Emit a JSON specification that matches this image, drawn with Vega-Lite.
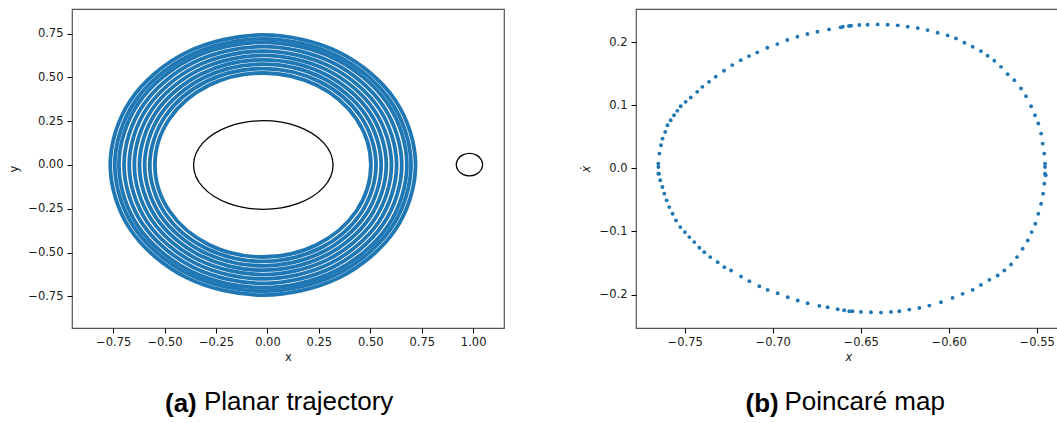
{
  "$schema": "https://vega.github.io/schema/vega-lite/v6.json",
  "padding": {"left": 8, "top": 8, "right": 0, "bottom": 0},
  "spacing": 74,
  "config": {
    "view": {"stroke": "#555", "strokeWidth": 1.2},
    "axis": {"domain": false, "grid": false, "tickColor": "#000", "tickSize": 5, "tickWidth": 1, "labelFont": "DejaVu Sans", "labelFontSize": 11.5, "labelColor": "#1a1a1a", "labelPadding": 3, "titleFont": "DejaVu Sans", "titleFontSize": 11.5, "titleFontWeight": "normal", "titleColor": "#1a1a1a"},
    "axisX": {"titlePadding": 4},
    "axisY": {"titlePadding": 8, "labelPadding": 4}
  },
  "datasets": {
    "traj": [
      {"ring":1,"i":0,"x":0.503,"y":0},{"ring":1,"i":1,"x":0.4327,"y":0.2625},{"ring":1,"i":2,"x":0.2405,"y":0.4547},{"ring":1,"i":3,"x":-0.022,"y":0.525},{"ring":1,"i":4,"x":-0.2845,"y":0.4547},{"ring":1,"i":5,"x":-0.4767,"y":0.2625},{"ring":1,"i":6,"x":-0.547,"y":0},{"ring":1,"i":7,"x":-0.4767,"y":-0.2625},{"ring":1,"i":8,"x":-0.2845,"y":-0.4547},{"ring":1,"i":9,"x":-0.022,"y":-0.525},{"ring":1,"i":10,"x":0.2405,"y":-0.4547},{"ring":1,"i":11,"x":0.4327,"y":-0.2625},
      {"ring":2,"i":0,"x":0.528,"y":0},{"ring":2,"i":1,"x":0.4543,"y":0.275},{"ring":2,"i":2,"x":0.253,"y":0.4763},{"ring":2,"i":3,"x":-0.022,"y":0.55},{"ring":2,"i":4,"x":-0.297,"y":0.4763},{"ring":2,"i":5,"x":-0.4983,"y":0.275},{"ring":2,"i":6,"x":-0.572,"y":0},{"ring":2,"i":7,"x":-0.4983,"y":-0.275},{"ring":2,"i":8,"x":-0.297,"y":-0.4763},{"ring":2,"i":9,"x":-0.022,"y":-0.55},{"ring":2,"i":10,"x":0.253,"y":-0.4763},{"ring":2,"i":11,"x":0.4543,"y":-0.275},
      {"ring":3,"i":0,"x":0.553,"y":0},{"ring":3,"i":1,"x":0.476,"y":0.2875},{"ring":3,"i":2,"x":0.2655,"y":0.498},{"ring":3,"i":3,"x":-0.022,"y":0.575},{"ring":3,"i":4,"x":-0.3095,"y":0.498},{"ring":3,"i":5,"x":-0.52,"y":0.2875},{"ring":3,"i":6,"x":-0.597,"y":0},{"ring":3,"i":7,"x":-0.52,"y":-0.2875},{"ring":3,"i":8,"x":-0.3095,"y":-0.498},{"ring":3,"i":9,"x":-0.022,"y":-0.575},{"ring":3,"i":10,"x":0.2655,"y":-0.498},{"ring":3,"i":11,"x":0.476,"y":-0.2875},
      {"ring":4,"i":0,"x":0.578,"y":0},{"ring":4,"i":1,"x":0.4976,"y":0.3},{"ring":4,"i":2,"x":0.278,"y":0.5196},{"ring":4,"i":3,"x":-0.022,"y":0.6},{"ring":4,"i":4,"x":-0.322,"y":0.5196},{"ring":4,"i":5,"x":-0.5416,"y":0.3},{"ring":4,"i":6,"x":-0.622,"y":0},{"ring":4,"i":7,"x":-0.5416,"y":-0.3},{"ring":4,"i":8,"x":-0.322,"y":-0.5196},{"ring":4,"i":9,"x":-0.022,"y":-0.6},{"ring":4,"i":10,"x":0.278,"y":-0.5196},{"ring":4,"i":11,"x":0.4976,"y":-0.3},
      {"ring":5,"i":0,"x":0.603,"y":0},{"ring":5,"i":1,"x":0.5193,"y":0.3125},{"ring":5,"i":2,"x":0.2905,"y":0.5413},{"ring":5,"i":3,"x":-0.022,"y":0.625},{"ring":5,"i":4,"x":-0.3345,"y":0.5413},{"ring":5,"i":5,"x":-0.5633,"y":0.3125},{"ring":5,"i":6,"x":-0.647,"y":0},{"ring":5,"i":7,"x":-0.5633,"y":-0.3125},{"ring":5,"i":8,"x":-0.3345,"y":-0.5413},{"ring":5,"i":9,"x":-0.022,"y":-0.625},{"ring":5,"i":10,"x":0.2905,"y":-0.5413},{"ring":5,"i":11,"x":0.5193,"y":-0.3125},
      {"ring":6,"i":0,"x":0.628,"y":0},{"ring":6,"i":1,"x":0.5409,"y":0.325},{"ring":6,"i":2,"x":0.303,"y":0.5629},{"ring":6,"i":3,"x":-0.022,"y":0.65},{"ring":6,"i":4,"x":-0.347,"y":0.5629},{"ring":6,"i":5,"x":-0.5849,"y":0.325},{"ring":6,"i":6,"x":-0.672,"y":0},{"ring":6,"i":7,"x":-0.5849,"y":-0.325},{"ring":6,"i":8,"x":-0.347,"y":-0.5629},{"ring":6,"i":9,"x":-0.022,"y":-0.65},{"ring":6,"i":10,"x":0.303,"y":-0.5629},{"ring":6,"i":11,"x":0.5409,"y":-0.325},
      {"ring":7,"i":0,"x":0.653,"y":0},{"ring":7,"i":1,"x":0.5626,"y":0.3375},{"ring":7,"i":2,"x":0.3155,"y":0.5846},{"ring":7,"i":3,"x":-0.022,"y":0.675},{"ring":7,"i":4,"x":-0.3595,"y":0.5846},{"ring":7,"i":5,"x":-0.6066,"y":0.3375},{"ring":7,"i":6,"x":-0.697,"y":0},{"ring":7,"i":7,"x":-0.6066,"y":-0.3375},{"ring":7,"i":8,"x":-0.3595,"y":-0.5846},{"ring":7,"i":9,"x":-0.022,"y":-0.675},{"ring":7,"i":10,"x":0.3155,"y":-0.5846},{"ring":7,"i":11,"x":0.5626,"y":-0.3375},
      {"ring":8,"i":0,"x":0.678,"y":0},{"ring":8,"i":1,"x":0.5842,"y":0.35},{"ring":8,"i":2,"x":0.328,"y":0.6062},{"ring":8,"i":3,"x":-0.022,"y":0.7},{"ring":8,"i":4,"x":-0.372,"y":0.6062},{"ring":8,"i":5,"x":-0.6282,"y":0.35},{"ring":8,"i":6,"x":-0.722,"y":0},{"ring":8,"i":7,"x":-0.6282,"y":-0.35},{"ring":8,"i":8,"x":-0.372,"y":-0.6062},{"ring":8,"i":9,"x":-0.022,"y":-0.7},{"ring":8,"i":10,"x":0.328,"y":-0.6062},{"ring":8,"i":11,"x":0.5842,"y":-0.35},
      {"ring":9,"i":0,"x":0.698,"y":0},{"ring":9,"i":1,"x":0.6015,"y":0.36},{"ring":9,"i":2,"x":0.338,"y":0.6235},{"ring":9,"i":3,"x":-0.022,"y":0.72},{"ring":9,"i":4,"x":-0.382,"y":0.6235},{"ring":9,"i":5,"x":-0.6455,"y":0.36},{"ring":9,"i":6,"x":-0.742,"y":0},{"ring":9,"i":7,"x":-0.6455,"y":-0.36},{"ring":9,"i":8,"x":-0.382,"y":-0.6235},{"ring":9,"i":9,"x":-0.022,"y":-0.72},{"ring":9,"i":10,"x":0.338,"y":-0.6235},{"ring":9,"i":11,"x":0.6015,"y":-0.36},
      {"ring":10,"i":0,"x":0.72,"y":0},{"ring":10,"i":1,"x":0.6206,"y":0.371},{"ring":10,"i":2,"x":0.349,"y":0.6426},{"ring":10,"i":3,"x":-0.022,"y":0.742},{"ring":10,"i":4,"x":-0.393,"y":0.6426},{"ring":10,"i":5,"x":-0.6646,"y":0.371},{"ring":10,"i":6,"x":-0.764,"y":0},{"ring":10,"i":7,"x":-0.6646,"y":-0.371},{"ring":10,"i":8,"x":-0.393,"y":-0.6426},{"ring":10,"i":9,"x":-0.022,"y":-0.742},{"ring":10,"i":10,"x":0.349,"y":-0.6426},{"ring":10,"i":11,"x":0.6206,"y":-0.371}
    ],
    "curves": [
      {"c":"e","i":0,"x":0.319,"y":0},{"c":"e","i":1,"x":0.2736,"y":0.1265},{"c":"e","i":2,"x":0.1495,"y":0.2191},{"c":"e","i":3,"x":-0.02,"y":0.253},{"c":"e","i":4,"x":-0.1895,"y":0.2191},{"c":"e","i":5,"x":-0.3136,"y":0.1265},{"c":"e","i":6,"x":-0.359,"y":0},{"c":"e","i":7,"x":-0.3136,"y":-0.1265},{"c":"e","i":8,"x":-0.1895,"y":-0.2191},{"c":"e","i":9,"x":-0.02,"y":-0.253},{"c":"e","i":10,"x":0.1495,"y":-0.2191},{"c":"e","i":11,"x":0.2736,"y":-0.1265},
      {"c":"s","i":0,"x":1.046,"y":0.002},{"c":"s","i":1,"x":1.0374,"y":0.034},{"c":"s","i":2,"x":1.014,"y":0.0574},{"c":"s","i":3,"x":0.982,"y":0.066},{"c":"s","i":4,"x":0.95,"y":0.0574},{"c":"s","i":5,"x":0.9266,"y":0.034},{"c":"s","i":6,"x":0.918,"y":0.002},{"c":"s","i":7,"x":0.9266,"y":-0.03},{"c":"s","i":8,"x":0.95,"y":-0.0534},{"c":"s","i":9,"x":0.982,"y":-0.062},{"c":"s","i":10,"x":1.014,"y":-0.0534},{"c":"s","i":11,"x":1.0374,"y":-0.03}
    ],
    "poincare": [
      {"x":-0.765,"y":-0.0085},{"x":-0.765,"y":0.0074},{"x":-0.7644,"y":0.0233},{"x":-0.7635,"y":0.0365},{"x":-0.7626,"y":0.047},{"x":-0.7611,"y":0.0577},{"x":-0.7598,"y":0.0683},{"x":-0.758,"y":0.0762},{"x":-0.7561,"y":0.0841},{"x":-0.7542,"y":0.091},{"x":-0.7523,"y":0.0984},{"x":-0.7495,"y":0.1053},{"x":-0.7466,"y":0.1122},{"x":-0.7429,"y":0.1212},{"x":-0.74,"y":0.1291},{"x":-0.7362,"y":0.137},{"x":-0.7324,"y":0.145},{"x":-0.7277,"y":0.1545},{"x":-0.723,"y":0.1635},{"x":-0.7182,"y":0.1714},{"x":-0.7135,"y":0.1778},{"x":-0.7088,"y":0.1836},{"x":-0.7031,"y":0.191},{"x":-0.6974,"y":0.1968},{"x":-0.6917,"y":0.2032},{"x":-0.686,"y":0.2085},{"x":-0.6803,"y":0.2127},{"x":-0.6746,"y":0.2164},{"x":-0.668,"y":0.2201},{"x":-0.6614,"y":0.2233},{"x":-0.6567,"y":0.2254},
      {"x":-0.6602,"y":0.2243},{"x":-0.6555,"y":0.2259},{"x":-0.6508,"y":0.227},{"x":-0.6461,"y":0.2275},{"x":-0.6404,"y":0.228},{"x":-0.6347,"y":0.2275},{"x":-0.629,"y":0.2265},{"x":-0.6233,"y":0.2243},{"x":-0.6176,"y":0.2222},{"x":-0.612,"y":0.219},{"x":-0.6063,"y":0.2148},{"x":-0.6006,"y":0.2106},{"x":-0.5959,"y":0.2058},{"x":-0.5911,"y":0.199},{"x":-0.5864,"y":0.1926},{"x":-0.5817,"y":0.1857},{"x":-0.5779,"y":0.1783},{"x":-0.5741,"y":0.1704},{"x":-0.5703,"y":0.1608},{"x":-0.5665,"y":0.1492},{"x":-0.5627,"y":0.1397},{"x":-0.5589,"y":0.1265},{"x":-0.5561,"y":0.1143},{"x":-0.5532,"y":0.0984},{"x":-0.551,"y":0.0841},{"x":-0.5491,"y":0.0709},{"x":-0.5475,"y":0.055},{"x":-0.5466,"y":0.0392},{"x":-0.5457,"y":0.0233},{"x":-0.5453,"y":0.0021},{"x":-0.5449,"y":-0.011},
      {"x":-0.5453,"y":0.0074},{"x":-0.5453,"y":-0.0085},{"x":-0.5457,"y":-0.0243},{"x":-0.5464,"y":-0.0402},{"x":-0.5475,"y":-0.0561},{"x":-0.5491,"y":-0.072},{"x":-0.5508,"y":-0.0878},{"x":-0.5529,"y":-0.1011},{"x":-0.5551,"y":-0.1143},{"x":-0.558,"y":-0.1275},{"x":-0.5612,"y":-0.1407},{"x":-0.5646,"y":-0.1524},{"x":-0.5684,"y":-0.1619},{"x":-0.5722,"y":-0.1698},{"x":-0.5769,"y":-0.1767},{"x":-0.5817,"y":-0.1847},{"x":-0.5864,"y":-0.1926},{"x":-0.5921,"y":-0.1989},{"x":-0.5978,"y":-0.2053},{"x":-0.6044,"y":-0.2122},{"x":-0.611,"y":-0.2175},{"x":-0.6167,"y":-0.2212},{"x":-0.6224,"y":-0.2238},{"x":-0.6281,"y":-0.2265},{"x":-0.6328,"y":-0.2275},{"x":-0.6385,"y":-0.2286},{"x":-0.6442,"y":-0.228},{"x":-0.6499,"y":-0.2275},{"x":-0.6547,"y":-0.2265},{"x":-0.6594,"y":-0.2249},
      {"x":-0.6565,"y":-0.2265},{"x":-0.6631,"y":-0.2233},{"x":-0.6688,"y":-0.2201},{"x":-0.6735,"y":-0.218},{"x":-0.6802,"y":-0.2138},{"x":-0.6858,"y":-0.2095},{"x":-0.6915,"y":-0.2042},{"x":-0.6972,"y":-0.1979},{"x":-0.7029,"y":-0.1926},{"x":-0.7076,"y":-0.1868},{"x":-0.7133,"y":-0.1788},{"x":-0.718,"y":-0.1714},{"x":-0.7237,"y":-0.1619},{"x":-0.7275,"y":-0.1566},{"x":-0.7313,"y":-0.1487},{"x":-0.7355,"y":-0.1407},{"x":-0.7389,"y":-0.1328},{"x":-0.7417,"y":-0.1259},{"x":-0.7446,"y":-0.1169},{"x":-0.7474,"y":-0.109},{"x":-0.7499,"y":-0.1011},{"x":-0.7525,"y":-0.0931},{"x":-0.755,"y":-0.0825},{"x":-0.7569,"y":-0.072},{"x":-0.7588,"y":-0.0614},{"x":-0.7603,"y":-0.0508},{"x":-0.7616,"y":-0.0402},{"x":-0.7627,"y":-0.0296},{"x":-0.7639,"y":-0.019},{"x":-0.7646,"y":-0.0085},{"x":-0.765,"y":0.0021}
    ]
  },
  "hconcat": [
    {
      "width": 432,
      "height": 319,
      "title": {"text": "(a)", "subtitle": "\u200b\u2002\u2002\u2002Planar trajectory", "orient": "bottom", "anchor": "middle", "align": "left", "frame": "group", "dx": -123, "offset": 28, "font": "Liberation Sans", "fontSize": 26, "fontWeight": "bold", "color": "#000", "subtitleFont": "Liberation Sans", "subtitleFontSize": 26, "subtitleFontWeight": "normal", "subtitleColor": "#000", "subtitlePadding": -28},
      "layer": [
        {
          "data": {"name": "traj"},
          "mark": {"type": "line", "interpolate": "cardinal-closed", "strokeWidth": 3.8, "color": "#1f77b4"},
          "encoding": {
            "x": {"field": "x", "type": "quantitative", "scale": {"domain": [-0.95, 1.15], "nice": false, "zero": false}, "axis": {"values": [-0.75, -0.5, -0.25, 0, 0.25, 0.5, 0.75, 1.0], "format": ".2f", "title": "x"}},
            "y": {"field": "y", "type": "quantitative", "scale": {"domain": [-0.93, 0.89], "nice": false, "zero": false}, "axis": {"values": [-0.75, -0.5, -0.25, 0, 0.25, 0.5, 0.75], "format": ".2f", "title": "y"}},
            "detail": {"field": "ring", "type": "nominal"},
            "order": {"field": "i", "type": "quantitative"}
          }
        },
        {
          "data": {"name": "curves"},
          "mark": {"type": "line", "interpolate": "cardinal-closed", "strokeWidth": 1.3, "color": "#000"},
          "encoding": {
            "x": {"field": "x", "type": "quantitative"},
            "y": {"field": "y", "type": "quantitative"},
            "detail": {"field": "c", "type": "nominal"},
            "order": {"field": "i", "type": "quantitative"}
          }
        }
      ]
    },
    {
      "width": 425,
      "height": 319,
      "title": {"text": "(b)", "subtitle": "\u200b\u2002\u2002\u2002Poincaré map", "orient": "bottom", "anchor": "middle", "align": "left", "frame": "group", "dx": -103, "offset": 28, "font": "Liberation Sans", "fontSize": 26, "fontWeight": "bold", "color": "#000", "subtitleFont": "Liberation Sans", "subtitleFontSize": 26, "subtitleFontWeight": "normal", "subtitleColor": "#000", "subtitlePadding": -28},
      "data": {"name": "poincare"},
      "mark": {"type": "point", "filled": true, "size": 15, "opacity": 1, "color": "#1f77b4"},
      "encoding": {
        "x": {"field": "x", "type": "quantitative", "scale": {"domain": [-0.7777, -0.5362], "nice": false, "zero": false}, "axis": {"values": [-0.75, -0.7, -0.65, -0.6, -0.55], "format": ".2f", "title": "x", "titleFontStyle": "italic"}},
        "y": {"field": "y", "type": "quantitative", "scale": {"domain": [-0.253, 0.2524], "nice": false, "zero": false}, "axis": {"values": [-0.2, -0.1, 0, 0.1, 0.2], "format": ".1f", "title": "ẋ", "titleFontStyle": "italic"}}
      }
    }
  ]
}
